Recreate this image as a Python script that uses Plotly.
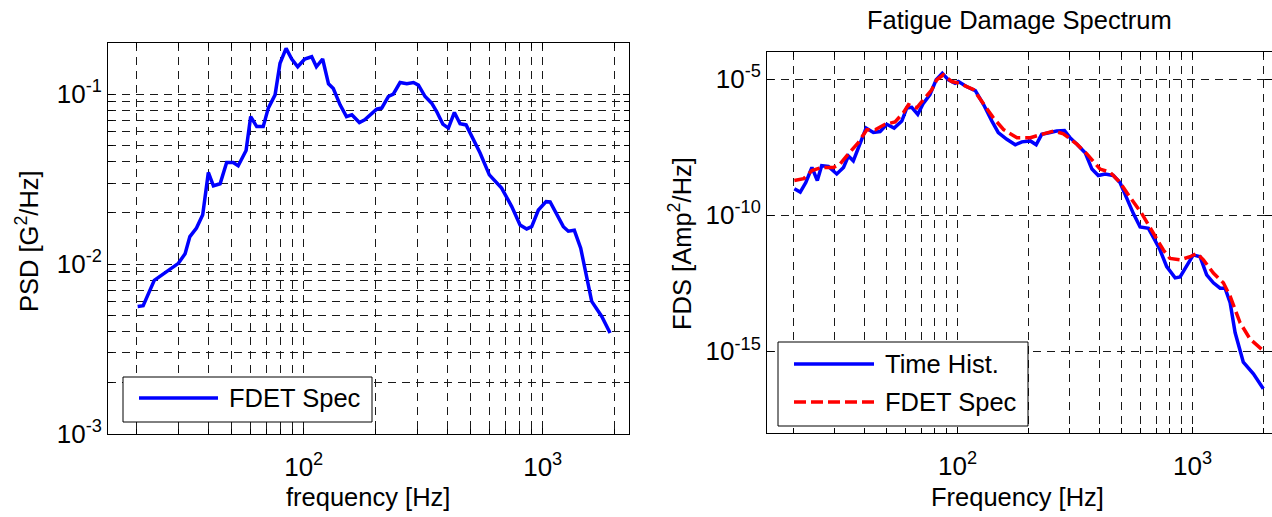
import plotly.graph_objects as go

# ---- PSD input spectrum (left panel) ----
freq_psd = [20.2, 21.3, 23.7, 26.7, 29.9, 31.9, 33.4, 35.6, 37.8, 39.9,
            41.9, 44.7, 47.6, 50.7, 53.2, 57.4, 60.0, 63.6, 67.7, 71.1,
            75.9, 79.6, 84.4, 89.1, 94.4, 101, 108, 113, 120, 127,
            133, 142, 151, 159, 171, 180, 202, 212, 226, 237,
            253, 270, 288, 302, 322, 343, 360, 382, 403, 427,
            451, 478, 505, 547, 598, 673, 742, 804, 857, 899,
            959, 1033, 1074, 1138, 1220, 1280, 1356, 1442, 1503, 1603,
            1766, 1914]
psd = [0.00563, 0.00569, 0.00802, 0.00904, 0.0101, 0.0115, 0.0145, 0.0163, 0.0195, 0.0346,
       0.0289, 0.0297, 0.0396, 0.0396, 0.0379, 0.0466, 0.0738, 0.0644, 0.0644, 0.0828,
       0.099, 0.152, 0.186, 0.161, 0.145, 0.161, 0.166, 0.145, 0.161, 0.115,
       0.108, 0.0865, 0.0738, 0.0756, 0.0681, 0.0706, 0.0816, 0.0828, 0.0968, 0.100,
       0.117, 0.115, 0.117, 0.113, 0.0968, 0.0885, 0.079, 0.0666, 0.0631, 0.078,
       0.0669, 0.0659, 0.0569, 0.045, 0.0335, 0.028, 0.0218, 0.017, 0.0161, 0.0166,
       0.0208, 0.0233, 0.0232, 0.02, 0.0166, 0.0156, 0.0158, 0.0124, 0.00925, 0.00603,
       0.00492, 0.00393]

# ---- Fatigue damage spectrum from the time history (right panel, solid) ----
freq_th = [20.2, 21.4, 22.6, 24.0, 25.3, 26.4, 28.2, 30.6, 32.7, 34.3,
           36.0, 38.5, 40.8, 43.8, 46.8, 50.0, 53.7, 57.9, 60.8, 63.8,
           67.7, 71.5, 76.3, 81.1, 86.1, 91.4, 97.6, 100.8, 109, 119,
           129, 140, 149, 162, 176, 188, 204, 216, 228, 248,
           264, 285, 301, 322, 349, 373, 397, 424, 460, 491,
           525, 560, 598, 649, 692, 727, 776, 843, 885, 945,
           1007, 1076, 1148, 1226, 1310, 1375, 1445, 1517, 1644, 1815,
           2000]
fds_th = [9.4e-10, 7.1e-10, 1.6e-9, 5.7e-9, 1.9e-9, 6.6e-9, 6.2e-9, 3.3e-9, 5.7e-9, 1.5e-8,
          1.0e-8, 4.1e-8, 1.6e-7, 1.1e-7, 1.2e-7, 2.2e-7, 1.6e-7, 2.9e-7, 8.8e-7, 9.3e-7,
          5.1e-7, 1.3e-6, 2.7e-6, 9.5e-6, 1.66e-5, 9.5e-6, 7.1e-6, 8.2e-6, 5.4e-6, 3.8e-6,
          1.17e-6, 2.9e-7, 1.1e-7, 6.2e-8, 3.9e-8, 5.0e-8, 5.4e-8, 3.9e-8, 9.4e-8, 1.1e-7,
          1.25e-7, 1.3e-7, 7.1e-8, 4.1e-8, 2.0e-8, 5.0e-9, 2.9e-9, 3.3e-9, 2.9e-9, 1.6e-9,
          4.1e-10, 1.15e-10, 3.7e-11, 3.3e-11, 1.2e-11, 5.3e-12, 1.3e-12, 5.0e-13, 5.4e-13, 1.5e-12,
          3.5e-12, 3.0e-12, 6.5e-13, 3.3e-13, 2.1e-13, 2.1e-13, 6.1e-14, 4.9e-15, 4.0e-16, 1.5e-16,
          4.2e-17]

# ---- Fatigue damage spectrum from the FDET spec (right panel, dashed) ----
freq_fdet = [20.2, 22.1, 24.0, 26.4, 29.6, 31.6, 34.3, 37.8, 41.1, 44.6,
             49.1, 54.2, 58.7, 61.8, 67.0, 72.7, 77.6, 81.5, 87.0, 94.5,
             102, 117, 129, 142, 157, 179, 204, 232, 256, 282,
             322, 355, 404, 446, 491, 542, 608, 681, 751, 802,
             885, 976, 1043, 1112, 1226, 1352, 1445, 1592, 1758, 1967]
fds_fdet = [1.9e-9, 2.2e-9, 4.4e-9, 5.7e-9, 5.7e-9, 7.6e-9, 1.8e-8, 4.7e-8, 1.4e-7, 1.4e-7,
            2.2e-7, 2.7e-7, 5.8e-7, 1.17e-6, 8.8e-7, 2.0e-6, 4.1e-6, 9.5e-6, 1.45e-5, 8.2e-6,
            7.1e-6, 4.1e-6, 1.3e-6, 3.8e-7, 1.4e-7, 7.1e-8, 7.1e-8, 9.4e-8, 1.25e-7, 9.9e-8,
            4.1e-8, 1.8e-8, 5.0e-9, 3.8e-9, 1.6e-9, 4.6e-10, 1.15e-10, 2.2e-11, 5.3e-12, 2.6e-12,
            2.3e-12, 3.0e-12, 4.0e-12, 2.3e-12, 7.5e-13, 3.3e-13, 1.06e-13, 1.14e-14, 2.8e-15, 1.2e-15]

# ---- tick positions / labels ----
freq_major = [100, 1000]
freq_major_labels = ["10<sup>2</sup>", "10<sup>3</sup>"]
freq_minor = [20, 30, 40, 50, 60, 70, 80, 90,
              200, 300, 400, 500, 600, 700, 800, 900, 2000]
psd_major = [0.001, 0.01, 0.1]
psd_major_labels = ["10<sup>-3</sup>", "10<sup>-2</sup>", "10<sup>-1</sup>"]
psd_minor = [0.002, 0.003, 0.004, 0.005, 0.006, 0.007, 0.008, 0.009,
             0.02, 0.03, 0.04, 0.05, 0.06, 0.07, 0.08, 0.09, 0.2]
fds_major = [1e-15, 1e-10, 1e-5]
fds_major_labels = ["10<sup>-15</sup>", "10<sup>-10</sup>", "10<sup>-5</sup>"]

W, H = 1272, 517
FONT = "Liberation Sans, Arial, sans-serif"
BLUE = "#0000ff"
RED = "#ff0000"
GRID = "#1a1a1a"


def px(x):
    return x / W


def py(y):
    return 1 - y / H


fig = go.Figure()
fig.add_trace(go.Scatter(x=freq_psd, y=psd, mode="lines",
                         line=dict(color=BLUE, width=3.5),
                         xaxis="x", yaxis="y", showlegend=False))
fig.add_trace(go.Scatter(x=freq_th, y=fds_th, mode="lines",
                         line=dict(color=BLUE, width=3.5),
                         xaxis="x2", yaxis="y2", showlegend=False))
fig.add_trace(go.Scatter(x=freq_fdet, y=fds_fdet, mode="lines",
                         line=dict(color=RED, width=3.5, dash="12px,5px"),
                         xaxis="x2", yaxis="y2", showlegend=False))

axis_common = dict(
    type="log", showline=True, linecolor="black", linewidth=1,
    mirror="ticks", ticks="inside", ticklen=6, tickcolor="black",
    tickmode="array",
    showgrid=True, gridcolor=GRID, gridwidth=1, griddash="8px,6px",
    zeroline=False, automargin=False,
    tickfont=dict(family=FONT, size=26, color="black"),
)


def minor_ticks(vals, grid=True):
    return dict(tickmode="array", tickvals=vals, ticks="inside", ticklen=5,
                tickcolor="black", showgrid=grid, gridcolor=GRID,
                gridwidth=1, griddash="8px,6px")


fig.update_layout(
    width=W, height=H,
    margin=dict(l=0, r=0, t=0, b=0),
    paper_bgcolor="white", plot_bgcolor="white",
    showlegend=False,
    xaxis=dict(axis_common, domain=[px(108), px(629)], range=[1.1812, 3.361],
               tickvals=freq_major, ticktext=freq_major_labels,
               minor=minor_ticks(freq_minor), ticklabelstandoff=10,
               anchor="y"),
    yaxis=dict(axis_common, domain=[py(434), py(43)], range=[-3, -0.699],
               tickvals=psd_major, ticktext=psd_major_labels,
               minor=minor_ticks(psd_minor), anchor="x"),
    xaxis2=dict(axis_common, domain=[px(767), 1.0], range=[1.189, 3.338],
                tickvals=freq_major, ticktext=freq_major_labels,
                minor=minor_ticks(freq_minor), ticklabelstandoff=10,
                anchor="y2"),
    yaxis2=dict(axis_common, domain=[py(433), py(52)], range=[-18, -4],
                tickvals=fds_major, ticktext=fds_major_labels, ticklen=7,
                anchor="x2"),
)

txt = dict(family=FONT, size=25.5, color="black")

# axis titles and panel title
fig.add_annotation(x=px(368), y=py(497), xref="paper", yref="paper",
                   text="frequency [Hz]", showarrow=False, font=txt,
                   xanchor="center", yanchor="middle")
fig.add_annotation(x=px(1017), y=py(497), xref="paper", yref="paper",
                   text="Frequency [Hz]", showarrow=False, font=txt,
                   xanchor="center", yanchor="middle")
fig.add_annotation(x=px(27), y=py(241), xref="paper", yref="paper",
                   text="PSD [G<sup>2</sup>/Hz]", showarrow=False, font=txt,
                   textangle=-90, xanchor="center", yanchor="middle")
fig.add_annotation(x=px(680), y=py(244), xref="paper", yref="paper",
                   text="FDS [Amp<sup>2</sup>/Hz]", showarrow=False, font=txt,
                   textangle=-90, xanchor="center", yanchor="middle")
fig.add_annotation(x=px(1019), y=py(20), xref="paper", yref="paper",
                   text="Fatigue Damage Spectrum", showarrow=False, font=txt,
                   xanchor="center", yanchor="middle")

# legend boxes
shapes = [
    dict(type="rect", xref="paper", yref="paper",
         x0=px(123), x1=px(372), y0=py(422), y1=py(377),
         fillcolor="white", line=dict(color="black", width=1), layer="above"),
    dict(type="line", xref="paper", yref="paper",
         x0=px(139), x1=px(218), y0=py(398), y1=py(398),
         line=dict(color=BLUE, width=3.5), layer="above"),
    dict(type="rect", xref="paper", yref="paper",
         x0=px(778), x1=px(1028), y0=py(426), y1=py(342),
         fillcolor="white", line=dict(color="black", width=1), layer="above"),
    dict(type="line", xref="paper", yref="paper",
         x0=px(794), x1=px(874), y0=py(364), y1=py(364),
         line=dict(color=BLUE, width=3.5), layer="above"),
    dict(type="line", xref="paper", yref="paper",
         x0=px(794), x1=px(874), y0=py(402), y1=py(402),
         line=dict(color=RED, width=3.5, dash="12px,5px"), layer="above"),
]
fig.update_layout(shapes=shapes)

for x, y, label in [(227, 398, "FDET Spec"), (883, 364, "Time Hist."), (883, 402, "FDET Spec")]:
    fig.add_annotation(x=px(x), y=py(y), xref="paper", yref="paper",
                       text=label, showarrow=False, font=txt,
                       xanchor="left", yanchor="middle")

fig.write_html("out.html")
